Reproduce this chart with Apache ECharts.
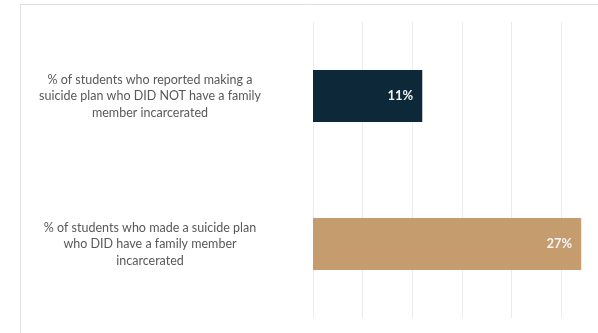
<!DOCTYPE html>
<html>
<head>
<meta charset="utf-8">
<script src="https://cdn.jsdelivr.net/npm/echarts@6/dist/echarts.min.js"></script>
<style>
html,body{margin:0;padding:0;background:#fff;}
#chart{width:598px;height:333px;}
</style>
</head>
<body>
<div id="chart"></div>
<script>
const categories = [
  "% of students who reported making a\nsuicide plan who DID NOT have a family\nmember incarcerated",
  "% of students who made a suicide plan\nwho DID have a family member\nincarcerated"
];
const values = [11, 27];
const barColors = ["#0d2838", "#c49c6d"];
const valueLabels = ["11%", "27%"];

const chart = echarts.init(document.getElementById('chart'), null, {renderer: 'canvas'});
chart.setOption({
  animation: false,
  backgroundColor: '#ffffff',
  graphic: [
    {type: 'line', shape: {x1: 21, y1: 4.5, x2: 598, y2: 4.5}, style: {stroke: '#e2e2e2', lineWidth: 1}},
    {type: 'line', shape: {x1: 20.5, y1: 4, x2: 20.5, y2: 333}, style: {stroke: '#e2e2e2', lineWidth: 1}}
  ],
  grid: {left: 313, top: 22, width: 298, height: 296, containLabel: false, outerBoundsMode: 'none'},
  xAxis: {
    type: 'value', min: 0, max: 30, interval: 5,
    axisLabel: {show: false}, axisLine: {show: false}, axisTick: {show: false},
    splitLine: {show: true, lineStyle: {color: '#ebebeb', width: 1}}
  },
  yAxis: {
    type: 'category', inverse: true, data: categories,
    axisLine: {show: false}, axisTick: {show: false},
    axisLabel: {
      align: 'center', margin: 163, color: '#595959',
      fontFamily: 'Lato', fontSize: 12.5, lineHeight: 16.5
    }
  },
  series: [{
    type: 'bar', barWidth: 52,
    data: values.map((v, i) => ({value: v, itemStyle: {color: barColors[i]}})),
    label: {
      show: true, position: 'insideRight', distance: 9,
      formatter: p => valueLabels[p.dataIndex],
      color: '#f4f4f4', fontFamily: 'Lato', fontWeight: 'bold', fontSize: 13
    }
  }]
});
</script>
</body>
</html>
